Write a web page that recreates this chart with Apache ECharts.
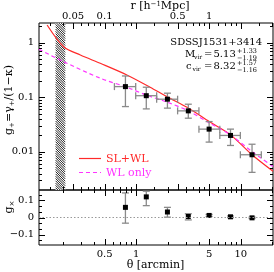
<!DOCTYPE html>
<html><head><meta charset="utf-8">
<script src="https://cdn.jsdelivr.net/npm/echarts@6/dist/echarts.min.js"></script>
<style>html,body{margin:0;padding:0;background:#fff}#c{width:274px;height:272px}</style>
</head><body><div id="c"></div>
<script>
// ---- data ----
const thetaBin = [0.79, 1.25, 1.99, 3.15, 4.98, 7.97, 12.8];
const binLo    = [0.62, 0.99, 1.57, 2.49, 3.98, 6.3, 9.9];
const binHi    = [0.99, 1.57, 2.49, 3.98, 6.3, 9.9, 15.7];
const gPlus    = [0.157, 0.107, 0.0923, 0.0564, 0.0261, 0.0200, 0.00885];
const gPlusLo  = [0.0676, 0.0613, 0.0633, 0.0414, 0.0151, 0.0131, 0.00421];
const gPlusHi  = [0.246, 0.153, 0.119, 0.0747, 0.0359, 0.0261, 0.0138];
const gCross   = [0.059, 0.12, 0.032, 0.006, 0.012, 0.004, -0.002];
const gCrossLo = [-0.033, 0.069, 0.002, -0.014, 0.006, -0.001, -0.006];
const gCrossHi = [0.143, 0.153, 0.059, 0.022, 0.018, 0.009, 0.002];
const slwlTheta = [0.141, 0.203, 0.293, 0.454, 0.815, 1.36, 1.96, 3.15, 4.98, 7.97, 12.8, 20.3];
const slwlG     = [2.11, 0.845, 0.596, 0.42, 0.257, 0.153, 0.103, 0.0634, 0.0359, 0.0205, 0.00883, 0.0044];
const wlTheta   = [0.118, 0.203, 0.454, 0.815, 1.245, 1.96, 3.15, 4.98, 7.97, 12.8, 20.3];
const wlG       = [0.758, 0.449, 0.224, 0.153, 0.110, 0.082, 0.0564, 0.034, 0.0205, 0.0101, 0.0054];
const hatchTheta = [0.17, 0.21];
const seriesNames = ['SL+WL', 'WL only'];
// ---- ticks ----
const thetaMajor = [0.5, 1, 5, 10];
const thetaLabels = ['0.5', '1', '5', '10'];
const thetaMinor = [0.2, 0.3, 0.4, 0.6, 0.7, 0.8, 0.9, 2, 3, 4, 6, 7, 8, 9, 20];
const rMajor = [0.05, 0.1, 0.5, 1];
const rLabels = ['0.05', '0.1', '0.5', '1'];
const rMinor = [0.03, 0.04, 0.06, 0.07, 0.08, 0.09, 0.2, 0.3, 0.4, 0.6, 0.7, 0.8, 0.9, 2, 3, 4];
const gMajor = [0.01, 0.1, 1];
const gLabels = ['0.01', '0.1', '1'];
const gMinor = [0.003, 0.004, 0.005, 0.006, 0.007, 0.008, 0.009, 0.02, 0.03, 0.04, 0.05, 0.06, 0.07, 0.08, 0.09,
                0.2, 0.3, 0.4, 0.5, 0.6, 0.7, 0.8, 0.9, 2];
const xMajor = [-0.1, 0, 0.1];
const xLabels = ['\u22120.1', '0', '0.1'];
const xMinor = [-0.1333, -0.0667, -0.0333, 0.0333, 0.0667, 0.1333];

const thetaMin = 0.118, thetaMax = 20.3, rPerTheta = 1 / 4.99;
const gMin = 0.002, gMax = 2.3, cMin = -0.16, cMax = 0.16;
const FONT = '"DejaVu Serif", serif';
const RED = '#ff2a2a', MAG = '#ff33ff', ERR = '#8a8a8a';

const chart = echarts.init(document.getElementById('c'), null, {renderer: 'canvas', width: 274, height: 272});

function ln(x1, y1, x2, y2, style) {
  return {type: 'line', shape: {x1, y1, x2, y2}, style: Object.assign({stroke: '#000', lineWidth: 1}, style || {})};
}
function tickSeries(xi, yi, dir, values, ref, len, labels, side) {
  return {
    type: 'custom', xAxisIndex: xi, yAxisIndex: yi, clip: false, silent: true, z: 6,
    data: values.map(v => dir === 'x' ? [v, ref] : [ref, v]),
    renderItem: (params, api) => {
      const cs = params.coordSys;
      const p = api.coord([api.value(0), api.value(1)]);
      const ch = [];
      const i = params.dataIndex;
      if (dir === 'x') {
        const x = Math.round(p[0]) + 0.5;
        ch.push(ln(x, cs.y + cs.height, x, cs.y + cs.height - len));
        ch.push(ln(x, cs.y, x, cs.y + len));
        if (labels) {
          ch.push({type: 'text', x: p[0], y: side === 'top' ? cs.y - 2 : cs.y + cs.height + 4,
            style: {text: labels[i], align: 'center', verticalAlign: side === 'top' ? 'bottom' : 'top',
              font: '10px ' + FONT, fill: '#000'}});
        }
      } else {
        const y = Math.round(p[1]) + 0.5;
        ch.push(ln(cs.x, y, cs.x + len, y));
        ch.push(ln(cs.x + cs.width, y, cs.x + cs.width - len, y));
        if (labels) {
          ch.push({type: 'text', x: cs.x - 5, y: p[1],
            style: {text: labels[i], align: 'right', verticalAlign: 'middle', font: '10px ' + FONT, fill: '#000'}});
        }
      }
      return {type: 'group', children: ch};
    }
  };
}
function errSeries(xi, yi, data, hasX) {
  return {
    type: 'custom', xAxisIndex: xi, yAxisIndex: yi, z: 4, silent: true,
    data: data,
    markLine: hasX ? undefined : {silent: true, symbol: 'none', label: {show: false},
      lineStyle: {type: [1.5, 2], color: '#999', width: 1}, data: [{yAxis: 0}]},
    renderItem: (params, api) => {
      const p = api.coord([api.value(0), api.value(1)]);
      const lo = api.coord([api.value(0), api.value(2)]);
      const hi = api.coord([api.value(0), api.value(3)]);
      const c = 3.5, st = {stroke: ERR, lineWidth: 1.3};
      const ch = [ln(p[0], lo[1], p[0], hi[1], st), ln(p[0] - c, lo[1], p[0] + c, lo[1], st),
        ln(p[0] - c, hi[1], p[0] + c, hi[1], st)];
      if (hasX) {
        const xl = api.coord([api.value(4), api.value(1)]);
        const xh = api.coord([api.value(5), api.value(1)]);
        ch.push(ln(xl[0], p[1], xh[0], p[1], st), ln(xl[0], p[1] - c, xl[0], p[1] + c, st),
          ln(xh[0], p[1] - c, xh[0], p[1] + c, st));
      }
      ch.push({type: 'rect', shape: {x: p[0] - 2.5, y: p[1] - 2.5, width: 5, height: 5}, style: {fill: '#000'}});
      return {type: 'group', children: ch};
    }
  };
}

const mainErr = thetaBin.map((t, i) => [t, gPlus[i], gPlusLo[i], gPlusHi[i], binLo[i], binHi[i]]);
const crossErr = thetaBin.map((t, i) => [t, gCross[i], gCrossLo[i], gCrossHi[i]]);

const axisHidden = {axisLine: {show: false}, axisTick: {show: false}, axisLabel: {show: false}, splitLine: {show: false}};
const txt = (x, y, text, size, extra) => ({type: 'text', x, y,
  style: Object.assign({text, verticalAlign: 'middle', font: size + 'px ' + FONT, fill: '#000'}, extra || {})});

const option = {
  backgroundColor: '#fff',
  animation: false,
  grid: [
    {left: 39, right: 1, top: 23, height: 167, show: true, borderColor: '#000', borderWidth: 1, backgroundColor: 'transparent'},
    {left: 39, right: 1, top: 190, height: 55, show: true, borderColor: '#000', borderWidth: 1, backgroundColor: 'transparent'}
  ],
  xAxis: [
    Object.assign({type: 'log', gridIndex: 0, min: thetaMin, max: thetaMax}, axisHidden),
    Object.assign({type: 'log', gridIndex: 0, position: 'top', min: thetaMin * rPerTheta, max: thetaMax * rPerTheta}, axisHidden),
    Object.assign({type: 'log', gridIndex: 1, min: thetaMin, max: thetaMax}, axisHidden)
  ],
  yAxis: [
    Object.assign({type: 'log', gridIndex: 0, min: gMin, max: gMax}, axisHidden),
    Object.assign({type: 'value', gridIndex: 1, min: cMin, max: cMax}, axisHidden),
    Object.assign({type: 'log', gridIndex: 0, min: gMin, max: gMax}, axisHidden)
  ],
  series: [
    {
      type: 'custom', xAxisIndex: 0, yAxisIndex: 0, silent: true, z: 1,
      data: [[hatchTheta[0], hatchTheta[1]]],
      renderItem: (params, api) => {
        const cs = params.coordSys;
        const x0 = api.coord([api.value(0), 1])[0], x1 = api.coord([api.value(1), 1])[0];
        const y0 = cs.y, y1 = cs.y + cs.height;
        const ch = [{type: 'rect', shape: {x: x0, y: y0, width: x1 - x0, height: y1 - y0}, style: {fill: '#fff'}}];
        const s = 2.3;
        for (let c = x0 - y1; c <= x1 - y0; c += s) {
          const ya = Math.max(y0, x0 - c), yb = Math.min(y1, x1 - c);
          if (yb > ya) ch.push(ln(ya + c, ya, yb + c, yb, {stroke: '#222', lineWidth: 1}));
        }
        return {type: 'group', children: ch};
      }
    },
    {name: seriesNames[0], type: 'line', xAxisIndex: 0, yAxisIndex: 0, smooth: 0.3, symbol: 'none', z: 3,
      lineStyle: {color: RED, width: 1.2}, itemStyle: {color: RED},
      data: slwlTheta.map((t, i) => [t, slwlG[i]])},
    {name: seriesNames[1], type: 'line', xAxisIndex: 0, yAxisIndex: 0, smooth: 0.3, symbol: 'none', z: 3,
      lineStyle: {color: MAG, width: 1.2, type: [4, 3]}, itemStyle: {color: MAG},
      data: wlTheta.map((t, i) => [t, wlG[i]])},
    errSeries(0, 0, mainErr, true),
    errSeries(2, 1, crossErr, false),
    tickSeries(0, 0, 'x', thetaMajor, gMin, 6, null, 'bottom'),
    tickSeries(0, 0, 'x', thetaMinor, gMin, 3, null, 'bottom'),
    tickSeries(1, 2, 'x', rMajor, gMin, 6, rLabels, 'top'),
    tickSeries(1, 2, 'x', rMinor, gMin, 3, null, 'top'),
    tickSeries(0, 0, 'y', gMajor, thetaMin, 6, gLabels),
    tickSeries(0, 0, 'y', gMinor, thetaMin, 3, null),
    tickSeries(2, 1, 'x', thetaMajor, cMin, 6, thetaLabels, 'bottom'),
    tickSeries(2, 1, 'x', thetaMinor, cMin, 3, null, 'bottom'),
    tickSeries(2, 1, 'y', xMajor, thetaMin, 6, xLabels),
    tickSeries(2, 1, 'y', xMinor, thetaMin, 3, null)
  ],
  graphic: [
    // legend
    ln(79, 158.5, 101, 158.5, {stroke: RED, lineWidth: 1.2}),
    txt(106, 159, seriesNames[0], 11, {fill: RED}),
    ln(79, 172.5, 101, 172.5, {stroke: MAG, lineWidth: 1.2, lineDash: [4, 3]}),
    txt(106, 173, seriesNames[1], 11, {fill: MAG}),
    // axis titles
    {type: 'text', x: 160, y: 6, style: {text: 'r [h{sup|\u22121}Mpc]', align: 'center', verticalAlign: 'middle',
      font: '11px ' + FONT, fill: '#000', rich: {sup: {fontSize: 7, fontFamily: FONT, verticalAlign: 'top', lineHeight: 8}}}},
    txt(155.5, 265, '\u03b8 [arcmin]', 11, {align: 'center'}),
    {type: 'text', x: 9, y: 100, rotation: Math.PI / 2, style: {
      text: 'g{sub|+}=\u03b3{sub|+}/(1\u2212\u03ba)', align: 'center', verticalAlign: 'middle',
      font: '11px ' + FONT, fill: '#000', lineHeight: 14,
      rich: {sub: {fontSize: 7, fontFamily: FONT, verticalAlign: 'bottom', lineHeight: 8}}}},
    {type: 'text', x: 9, y: 207, rotation: Math.PI / 2, style: {
      text: 'g{sub|\u00d7}', align: 'center', verticalAlign: 'middle',
      font: '11px ' + FONT, fill: '#000', lineHeight: 14,
      rich: {sub: {fontSize: 7, fontFamily: FONT, verticalAlign: 'bottom', lineHeight: 8}}}},
    // annotation
    txt(262, 42.5, 'SDSSJ1531+3414', 10, {align: 'right'}),
    txt(185, 54.5, 'M', 10),
    txt(194, 57.5, 'vir', 6),
    txt(204, 54.5, '=', 10),
    txt(213.5, 54.5, '5.13', 10),
    txt(237, 51, '+1.33', 6.5),
    txt(237, 58, '\u22121.19', 6.5),
    txt(186, 66.5, 'c', 10),
    txt(192.5, 69.5, 'vir', 6),
    txt(204, 66.5, '=', 10),
    txt(213.5, 66.5, '8.32', 10),
    txt(237, 63, '+1.57', 6.5),
    txt(237, 70, '\u22121.16', 6.5)
  ]
};
chart.setOption(option);
</script></body></html>
